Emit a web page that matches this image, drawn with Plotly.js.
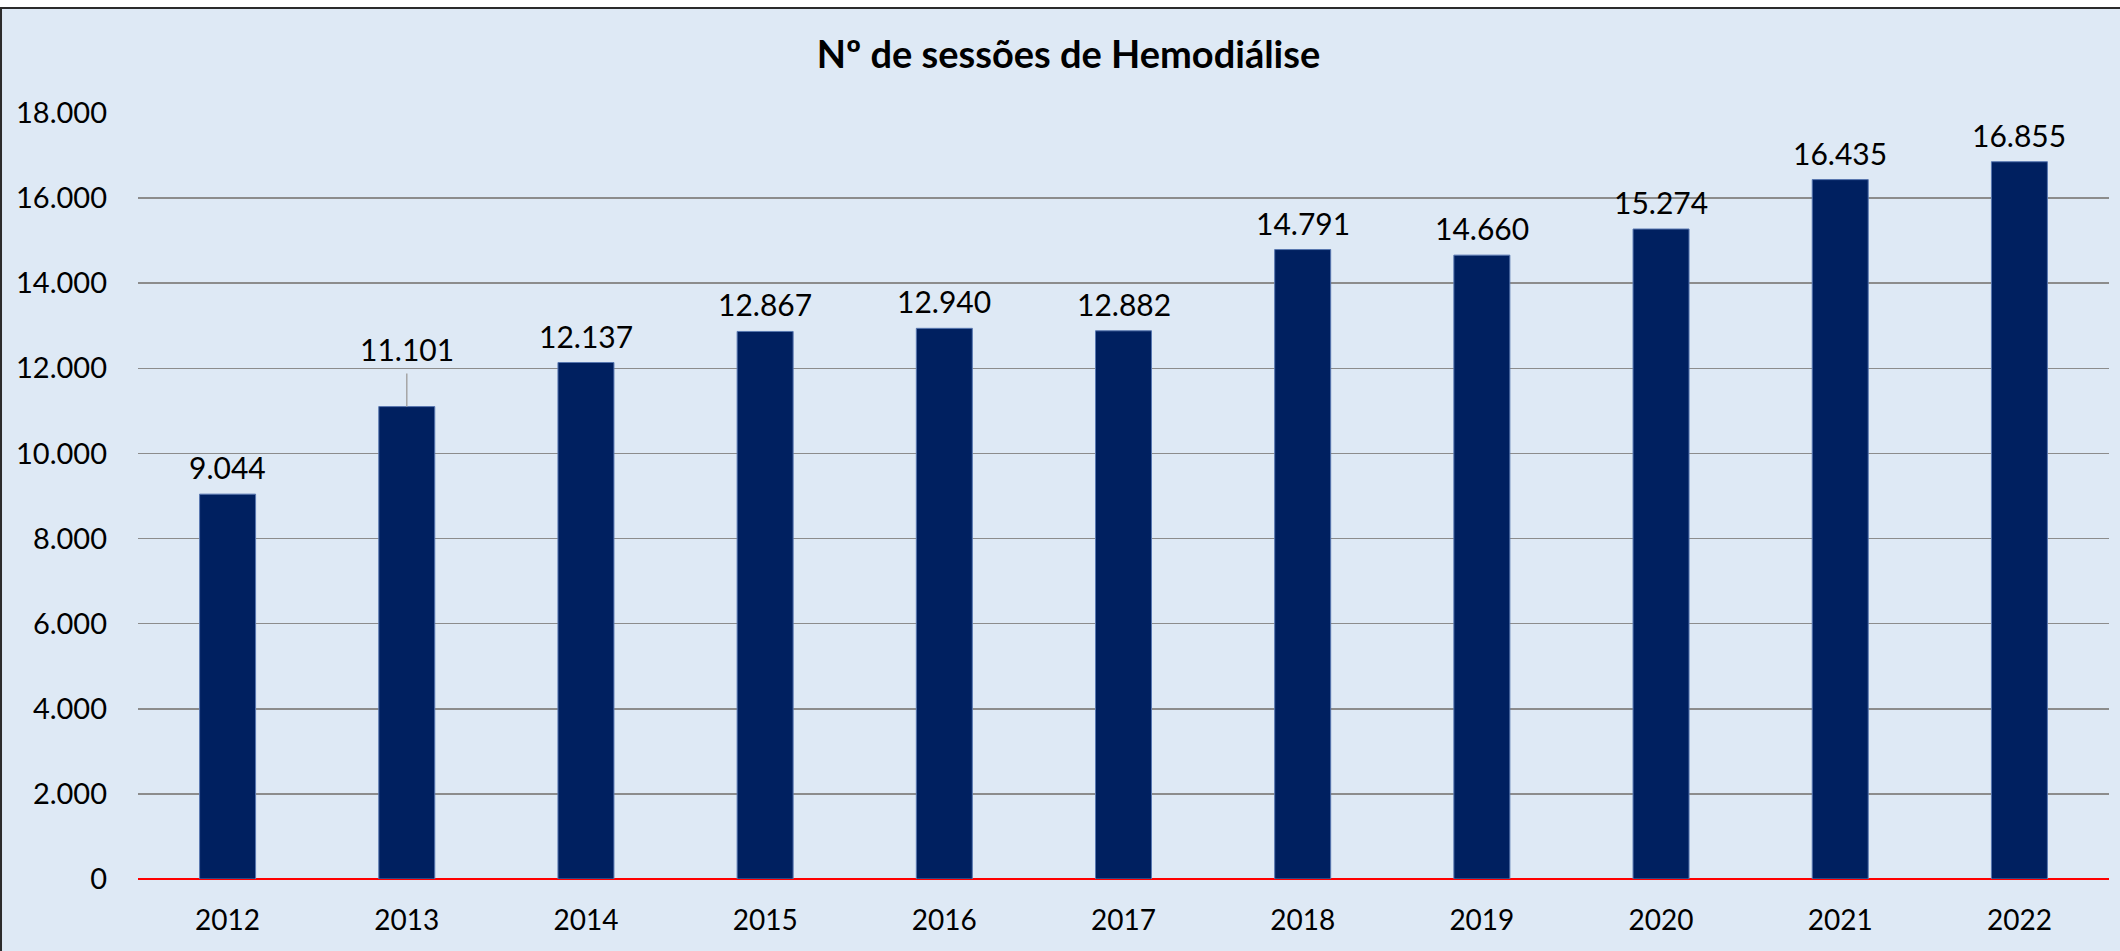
<!DOCTYPE html>
<html>
<head>
<meta charset="utf-8">
<script src="https://cdn.plot.ly/plotly-3.0.1.min.js"></script>
<style>html,body{margin:0;padding:0;background:#fff;}#chart{width:2120px;height:951px;}</style>
</head>
<body>
<div id="chart"></div>
<script>
var years = ["2012","2013","2014","2015","2016","2017","2018","2019","2020","2021","2022"];
var sessions = [9044, 11101, 12137, 12867, 12940, 12882, 14791, 14660, 15274, 16435, 16855];
var yTicks = [0, 2000, 4000, 6000, 8000, 10000, 12000, 14000, 16000, 18000];
var titleText = "Nº de sessões de Hemodiálise";

function fmt(v) {
  return String(v).replace(/\B(?=(\d{3})+(?!\d))/g, ".");
}

var FONT = "Lato, 'Open Sans', 'Liberation Sans', sans-serif";

var annotations = years.map(function (yr, i) {
  var a = {
    x: i, y: sessions[i], xref: "x", yref: "y",
    text: fmt(sessions[i]),
    font: {family: FONT, size: 30, color: "#000"},
    xanchor: "center", yanchor: "bottom",
    showarrow: false, yshift: 7
  };
  if (i === 1) {
    a.showarrow = true; a.ax = 0; a.ay = -38; a.yshift = 0;
    a.arrowhead = 0; a.arrowwidth = 1.5; a.arrowcolor = "#a6a6a6";
    a.startstandoff = 5; a.standoff = 0;
  }
  return a;
});

var trace = {
  type: "bar",
  x: years,
  y: sessions,
  marker: {color: "#002060", line: {color: "#5877b0", width: 1}},
  hoverinfo: "x+y"
};

var layout = {
  width: 2120, height: 951,
  margin: {l: 138, r: 11, t: 113, b: 72, pad: 0},
  paper_bgcolor: "#ffffff",
  plot_bgcolor: "rgba(0,0,0,0)",
  separators: ",.",
  showlegend: false,
  bargap: 0.6875,
  title: {
    text: "<b>" + titleText + "</b>",
    font: {family: FONT, size: 38, color: "#000"},
    xref: "container", x: 0.504, xanchor: "center",
    yref: "container", y: 0.943, yanchor: "middle"
  },
  xaxis: {
    type: "category",
    categoryarray: years, categoryorder: "array",
    range: [-0.5, years.length - 0.5], autorange: false,
    showgrid: false, zeroline: false, showline: false,
    ticks: "", ticklabelstandoff: 22,
    tickfont: {family: FONT, size: 28, color: "#000"}
  },
  yaxis: {
    range: [0, 18000], autorange: false,
    tickvals: yTicks,
    tickformat: ",d",
    showgrid: true, gridcolor: "#8c8c8c", gridwidth: 1.5,
    zeroline: true, zerolinecolor: "#ff0000", zerolinewidth: 2.5,
    showline: false, ticks: "", ticklabelstandoff: 30,
    tickfont: {family: FONT, size: 29, color: "#000"}
  },
  shapes: [{
    type: "rect", xref: "paper", yref: "paper", layer: "below",
    x0: -0.0695, x1: 1.02, y0: -0.12, y1: 1.137,
    fillcolor: "#dee9f5", line: {color: "#2b2b2b", width: 2}
  }],
  annotations: annotations
};

Plotly.newPlot("chart", [trace], layout, {displayModeBar: false, staticPlot: true});
</script>
</body>
</html>
